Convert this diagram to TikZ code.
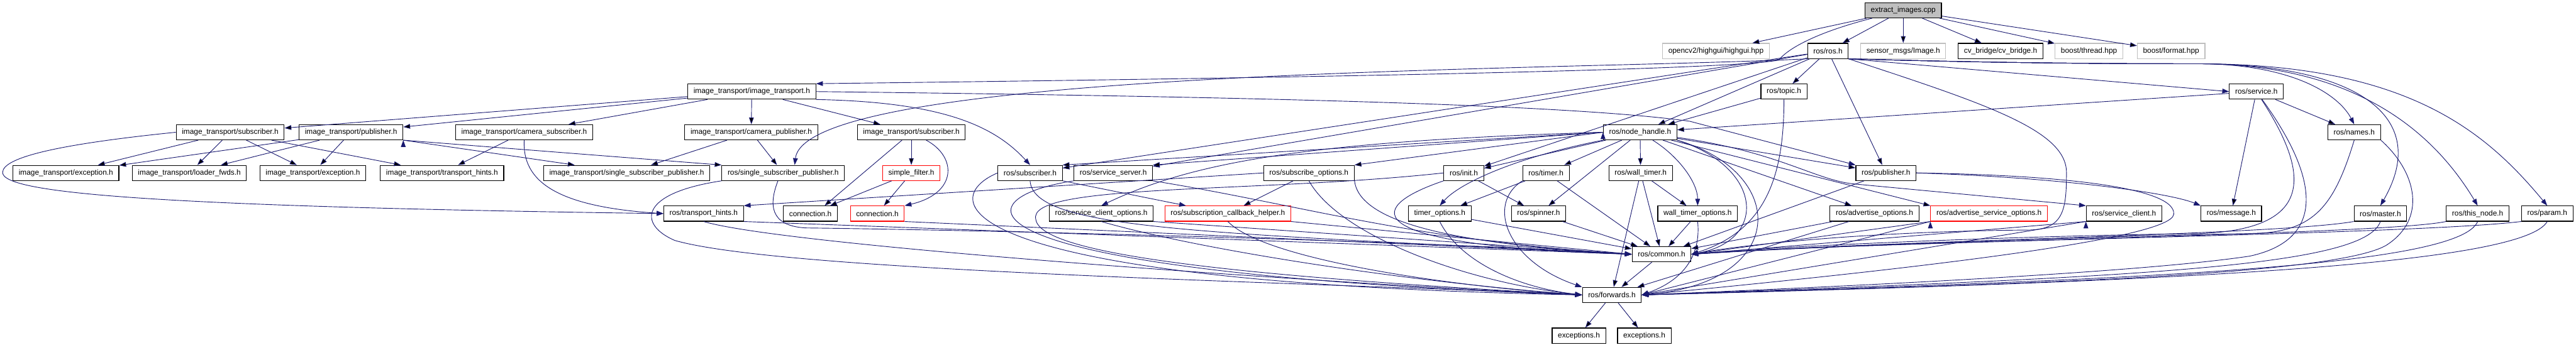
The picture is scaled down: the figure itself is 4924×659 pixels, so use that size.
\documentclass[tikz,border=0pt]{standalone}
\usepackage{fontspec}
\setmainfont{Liberation Sans}
\usetikzlibrary{arrows.meta}
\definecolor{edgeblue}{HTML}{191970}
\definecolor{extgray}{HTML}{BFBFBF}

\begin{document}
\begin{tikzpicture}[x=1pt,y=-1pt,
  file/.style={draw=black, line width=1.3pt, fill=white, minimum height=29pt,
    inner xsep=11pt, inner ysep=0pt, font=\fontsize{14.3}{17}\selectfont},
  extfile/.style={file, draw=extgray},
  truncfile/.style={file, draw=red},
  mainfile/.style={file, fill=extgray},
  dep/.style={draw=edgeblue, line width=1.1pt, -{Triangle[length=13pt,width=9pt]}}]
\useasboundingbox (0,0) rectangle (4924,659);

\node[mainfile] at (3638,19.6) (root) {extract\_images.cpp};

\node[extfile] at (3280,97.4) (highgui) {opencv2/highgui/highgui.hpp};
\node[file] at (3494,97.4) (ros) {ros/ros.h};
\node[extfile] at (3638,97.4) (image) {sensor\_msgs/Image.h};
\node[file] at (3824,97.4) (cvbridge) {cv\_bridge/cv\_bridge.h};
\node[extfile] at (3993,97.4) (thread) {boost/thread.hpp};
\node[extfile] at (4150,97.4) (format) {boost/format.hpp};

\node[file] at (1437,175.2) (ittrans) {image\_transport/image\_transport.h};
\node[file] at (3410,175.2) (topic) {ros/topic.h};
\node[file] at (4313,175.2) (service) {ros/service.h};

\node[file] at (440,253) (itsub1) {image\_transport/subscriber.h};
\node[file] at (671,253) (itpub) {image\_transport/publisher.h};
\node[file] at (1002,253) (itcamsub) {image\_transport/camera\_subscriber.h};
\node[file] at (1436,253) (itcampub) {image\_transport/camera\_publisher.h};
\node[file] at (1742,253) (itsub2) {image\_transport/subscriber.h};
\node[file] at (3135,253) (nh) {ros/node\_handle.h};
\node[file] at (4500,253) (names) {ros/names.h};

\node[file] at (126,330.8) (itexc1) {image\_transport/exception.h};
\node[file] at (362,330.8) (itloader) {image\_transport/loader\_fwds.h};
\node[file] at (598,330.8) (itexc2) {image\_transport/exception.h};
\node[file] at (845,330.8) (ithints) {image\_transport/transport\_hints.h};
\node[file] at (1198,330.8) (itssp) {image\_transport/single\_subscriber\_publisher.h};
\node[file] at (1497,330.8) (rosssp) {ros/single\_subscriber\_publisher.h};
\node[truncfile] at (1742,330.8) (filter) {simple\_filter.h};
\node[file] at (1969,330.8) (rossub) {ros/subscriber.h};
\node[file] at (2128,330.8) (srvserver) {ros/service\_server.h};
\node[file] at (2502,330.8) (subopts) {ros/subscribe\_options.h};
\node[file] at (2798,330.8) (init) {ros/init.h};
\node[file] at (2955,330.8) (timer) {ros/timer.h};
\node[file] at (3136,330.8) (walltimer) {ros/wall\_timer.h};
\node[file] at (3605,330.8) (rospub) {ros/publisher.h};

\node[file] at (1345,408.6) (roshints) {ros/transport\_hints.h};
\node[file] at (1549,408.6) (conn1) {connection.h};
\node[truncfile] at (1677,408.6) (conn2) {connection.h};
\node[file] at (2105,408.6) (clientopts) {ros/service\_client\_options.h};
\node[truncfile] at (2347,408.6) (cbhelper) {ros/subscription\_callback\_helper.h};
\node[file] at (2752,408.6) (timeropts) {timer\_options.h};
\node[file] at (2941,408.6) (spinner) {ros/spinner.h};
\node[file] at (3245,408.6) (walltimeropts) {wall\_timer\_options.h};
\node[file] at (3583,408.6) (advopts) {ros/advertise\_options.h};
\node[truncfile] at (3802,408.6) (advsrvopts) {ros/advertise\_service\_options.h};
\node[file] at (4060,408.6) (client) {ros/service\_client.h};
\node[file] at (4265,408.6) (message) {ros/message.h};
\node[file] at (4550,408.6) (master) {ros/master.h};
\node[file] at (4736,408.6) (thisnode) {ros/this\_node.h};
\node[file] at (4869,408.6) (param) {ros/param.h};

\node[file] at (3176,486.4) (common) {ros/common.h};
\node[file] at (3081,564.2) (forwards) {ros/forwards.h};
\node[file] at (3018,642) (exc1) {exceptions.h};
\node[file] at (3143,642) (exc2) {exceptions.h};

\draw[dep] (root) edge (highgui) edge (ros) edge (image) edge (cvbridge) edge (thread) edge (format);
\draw[dep] (root) .. controls (3480,60) and (3420,90) .. (3400,115) .. controls (3300,135) and (2400,150) .. (ittrans.north east);

\draw[dep] (ros) edge (topic) edge (rospub) edge (nh) edge (init) edge (rossub) edge (srvserver);
\draw[dep] (ros.south east) -- (service.west);
\draw[dep] (ros.south west) .. controls (3000,135) and (1540,130) .. ([xshift=22pt]rosssp.north);
\draw[dep] (ros.south east) .. controls (3800,200) and (3950,250) .. (3950,330) .. controls (3950,400) and (3945,438) .. (3880,440) .. controls (3600,442) and (3350,465) .. (common.east);
\draw[dep] (ros.south east) .. controls (3800,120) and (4000,122) .. (4200,122) .. controls (4380,122) and (4470,180) .. (names.north);
\draw[dep] (ros.south east) .. controls (3800,120) and (4000,122) .. (4200,122) .. controls (4500,122) and (4650,220) .. (master.north);
\draw[dep] (ros.south east) .. controls (3800,120) and (4000,122) .. (4200,122) .. controls (4500,122) and (4650,250) .. (thisnode.north);
\draw[dep] (ros.south east) .. controls (3800,120) and (4000,122) .. (4200,122) .. controls (4600,122) and (4750,250) .. (param.north);

\draw[dep] (topic) edge (nh);
\draw[dep] (topic.south) .. controls (3410,330) and (3380,440) .. (common.east);

\draw[dep] (service) edge (nh) edge (message) edge (names);
\draw[dep] (service) .. controls (4420,340) and (4420,440) .. (4200,447) .. controls (3900,450) and (3400,470) .. (common.east);
\draw[dep] (service) .. controls (4440,350) and (4440,460) .. (4300,490) .. controls (4100,520) and (3600,545) .. (forwards.east);
\draw[dep] (names.south) .. controls (4460,400) and (4420,445) .. (4300,447) .. controls (4000,452) and (3500,470) .. (common.east);
\draw[dep] (names.south east) .. controls (4620,330) and (4640,420) .. (4560,470) .. controls (4450,530) and (3800,545) .. (forwards.east);
\draw[dep] (master.south west) .. controls (4350,450) and (3600,460) .. (common.east);
\draw[dep] (master.south) .. controls (4520,510) and (4100,530) .. (forwards.east);
\draw[dep] (thisnode.south west) .. controls (4550,450) and (3600,460) .. (common.east);
\draw[dep] (thisnode.south) .. controls (4700,510) and (4100,535) .. (forwards.east);
\draw[dep] (param.south west) .. controls (4600,450) and (3600,460) .. (common.east);
\draw[dep] (param.south) .. controls (4820,510) and (4100,540) .. (forwards.east);

\draw[dep] (rospub) edge (common);
\draw[dep] (rospub.east) .. controls (3950,340) and (4150,370) .. (message.north west);
\draw[dep] (rospub.east) .. controls (3950,335) and (4160,360) .. (4155,410) .. controls (4150,460) and (3600,520) .. (forwards.east);
\draw[dep] (advopts) edge (common) edge (forwards);
\draw[dep] (advsrvopts.south west) edge (common.east) edge (forwards.east);
\draw[dep] (client.south west) edge (common.east) edge (forwards.east);

\draw[dep] (nh) edge (init) edge (timer) edge (spinner) edge (walltimer) edge (rospub) edge (advopts) edge (advsrvopts.north west);
\draw[dep] (nh.west) edge (subopts.north east) edge (srvserver.north east) edge (rossub.north east);
\draw[dep] (nh) .. controls (3400,290) and (3470,345) .. (3545,352) -- (client.north west);
\draw[dep] (nh) .. controls (3210,300) and (3245,350) .. (walltimeropts.north);
\draw[dep] (nh.south west) .. controls (2900,300) and (2790,350) .. (timeropts.north);
\draw[dep] (nh.west) .. controls (2500,270) and (2280,310) .. (clientopts.north);
\draw[dep] (nh.south east) .. controls (3370,320) and (3380,460) .. (common.east);
\draw[dep] (nh.south east) .. controls (3420,330) and (3420,540) .. (forwards.east);

\draw[dep] (ittrans) edge (itsub1) edge (itpub) edge (itcamsub) edge (itcampub) edge (itsub2);
\draw[dep] (ittrans.south east) .. controls (1800,195) and (1900,240) .. (rossub.north);
\draw[dep] (ittrans.east) .. controls (2400,185) and (3000,200) .. (3230,232) -- (rospub.north west);

\draw[dep] (itsub1) edge (itexc1) edge (itloader) edge (itexc2) edge (ithints);
\draw[dep] (itsub1.west) .. controls (120,275) and (5,300) .. (5,330) .. controls (5,370) and (300,395) .. (roshints.west);
\draw[dep] (itpub) edge (itexc1) edge (itloader) edge (itexc2);
\draw[dep] (itpub.south east) edge (rosssp.north west) edge ([xshift=60pt]itssp.north west);
\draw[dep] (itcamsub) edge (ithints);
\draw[dep] (itcamsub.south) .. controls (998,345) and (1060,395) .. (roshints.west);
\draw[dep] (itcampub) edge (itssp) edge (rosssp);
\draw[dep] (itsub2) edge (filter) edge ([xshift=-25pt]conn1.north east);
\draw[dep] (itsub2) .. controls (1830,300) and (1830,370) .. (conn2.north east);
\draw[dep] (filter) edge (conn2) edge (conn1);

\draw[dep] ([xshift=-10pt]rosssp.south) .. controls (1470,390) and (1470,432) .. (1540,436) .. controls (2000,442) and (2800,465) .. (common.west);
\draw[dep] (rosssp.south west) .. controls (1220,370) and (1220,430) .. (1290,460) .. controls (1500,520) and (2500,540) .. (forwards.west);
\draw[dep] (roshints.south east) -- (common.west);
\draw[dep] (roshints.south) .. controls (1500,470) and (2500,540) .. (forwards.west);
\draw[dep] (conn2.south east) -- (common.west);

\draw[dep] (rossub.south east) -- ([xshift=-80pt]cbhelper.north);
\draw[dep] (rossub.south) .. controls (1975,440) and (2300,445) .. (common.west);
\draw[dep] (rossub.west) .. controls (1790,380) and (1800,540) .. (forwards.west);
\draw[dep] (srvserver.south east) .. controls (2480,390) and (2700,460) .. (common.west);
\draw[dep] (srvserver.south west) .. controls (1830,380) and (1800,520) .. (forwards.west);
\draw[dep] (subopts) edge (cbhelper);
\draw[dep] (subopts.west) -- (roshints.north east);
\draw[dep] (subopts.south east) .. controls (2600,440) and (2850,470) .. (common.west);
\draw[dep] (subopts.south) .. controls (2560,450) and (2800,540) .. (forwards.west);
\draw[dep] (init) edge (spinner);
\draw[dep] (init.south west) .. controls (2600,400) and (2600,470) .. (common.west);
\draw[dep] (init.west) .. controls (2400,370) and (1960,350) .. (1980,420) .. controls (1990,490) and (2400,530) .. (forwards.west);
\draw[dep] (timer) edge (timeropts) edge (common);
\draw[dep] (timer.south west) .. controls (2840,390) and (2880,500) .. (forwards.north west);
\draw[dep] (walltimer) edge (walltimeropts) edge (common) edge (forwards);
\draw[dep] (walltimeropts) edge (common);
\draw[dep] (walltimeropts.south) .. controls (3250,470) and (3235,530) .. (forwards.east);
\draw[dep] (timeropts) edge (common);
\draw[dep] (timeropts.south) .. controls (2790,500) and (2900,550) .. (forwards.west);
\draw[dep] (spinner) edge (common);
\draw[dep] (clientopts.south east) -- (common.west);
\draw[dep] (clientopts.south) .. controls (2300,480) and (2700,540) .. (forwards.west);
\draw[dep] (cbhelper.south east) -- (common.west);
\draw[dep] (cbhelper.south) .. controls (2420,500) and (2800,550) .. (forwards.west);

\draw[dep] (common) edge (forwards);
\draw[dep] (forwards) edge (exc1) edge (exc2);
\end{tikzpicture}
\end{document}
